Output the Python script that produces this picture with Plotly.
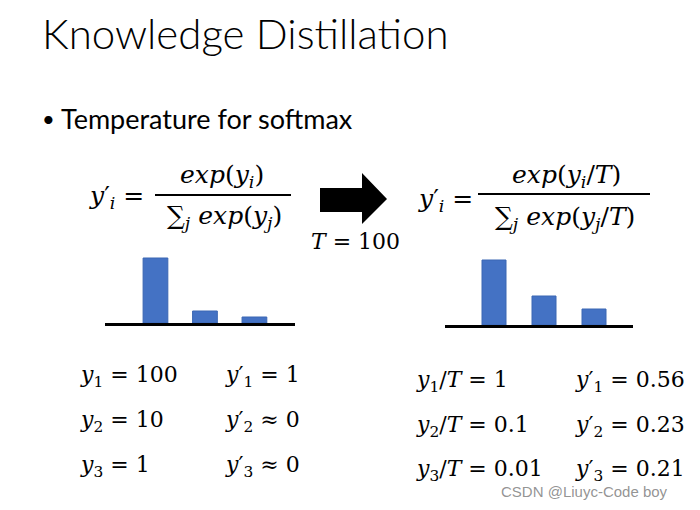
import plotly.graph_objects as go

W, H = 700, 510

# ---- data (bar heights, relative units) ----
categories = [1, 2, 3]
before_T = [65, 12, 6]      # softmax with T = 1
after_T = [65, 29, 16]      # softmax with T = 100

left_rows = [
    ("<i>y</i><sub>1</sub> = 100", "<i>y</i>′<sub>1</sub> = 1"),
    ("<i>y</i><sub>2</sub> = 10", "<i>y</i>′<sub>2</sub> ≈ 0"),
    ("<i>y</i><sub>3</sub> = 1", "<i>y</i>′<sub>3</sub> ≈ 0"),
]
right_rows = [
    ("<i>y</i><sub>1</sub>/<i>T</i> = 1", "<i>y</i>′<sub>1</sub> = 0.56"),
    ("<i>y</i><sub>2</sub>/<i>T</i> = 0.1", "<i>y</i>′<sub>2</sub> = 0.23"),
    ("<i>y</i><sub>3</sub>/<i>T</i> = 0.01", "<i>y</i>′<sub>3</sub> = 0.21"),
]

BLUE = "#4472C4"
SERIF = "DejaVu Serif"
SANS = "Lato"

def px(x):
    return x / W

def py(y):
    return 1 - y / H

fig = go.Figure()

fig.add_trace(go.Bar(x=categories, y=before_T, xaxis="x", yaxis="y",
                     width=0.5, marker=dict(color=BLUE, line=dict(color="#3B66B3", width=1))))
fig.add_trace(go.Bar(x=categories, y=after_T, xaxis="x2", yaxis="y2",
                     width=0.48, marker=dict(color=BLUE, line=dict(color="#3B66B3", width=1))))

# overlay axis in pixel units for text and shapes
fig.add_trace(go.Scatter(x=[0], y=[0], xaxis="x3", yaxis="y3", mode="markers",
                         marker=dict(opacity=0), hoverinfo="skip"))

axis_common = dict(showgrid=False, zeroline=False, showticklabels=False, ticks="")
fig.update_layout(
    width=W, height=H, margin=dict(l=0, r=0, t=0, b=0),
    paper_bgcolor="white", plot_bgcolor="rgba(0,0,0,0)", showlegend=False,
    xaxis=dict(domain=[px(105), px(295)], range=[-0.02, 3.82], anchor="y",
               showline=True, linecolor="black", linewidth=3, **axis_common),
    yaxis=dict(domain=[py(323), py(250)], range=[0, 73], anchor="x",
               showline=False, **axis_common),
    xaxis2=dict(domain=[px(445), px(633)], range=[0.02, 3.78], anchor="y2",
                showline=True, linecolor="black", linewidth=3, **axis_common),
    yaxis2=dict(domain=[py(325), py(252)], range=[0, 73], anchor="x2",
                showline=False, **axis_common),
    xaxis3=dict(domain=[0, 1], range=[0, W], anchor="y3", visible=False),
    yaxis3=dict(domain=[0, 1], range=[H, 0], anchor="x3", visible=False),
)

ann = []

def text(x, y, s, size, family=SERIF, anchor="left", color="black", weight=None):
    f = dict(family=family, size=size, color=color)
    if weight:
        f["weight"] = weight
    ann.append(dict(x=x, y=y, xref="x3", yref="y3", text=s, showarrow=False,
                    xanchor=anchor, yanchor="middle", font=f))

# titles
text(40, 33, "Knowledge Distillation", 42, SANS, weight=300)
text(40, 118, "•", 22, SANS)
text(59, 118, "Temperature for softmax", 27, SANS)

# left formula
text(87, 197, "<i>y</i>′<sub><i>i</i></sub> =", 25)
text(222, 176, "<i>exp</i>(<i>y</i><sub><i>i</i></sub>)", 25, anchor="center")
text(224, 217, "∑<sub><i>j</i></sub> <i>exp</i>(<i>y</i><sub><i>j</i></sub>)", 25, anchor="center")

# right formula
text(416, 200, "<i>y</i>′<sub><i>i</i></sub> =", 25)
text(566, 176, "<i>exp</i>(<i>y</i><sub><i>i</i></sub>/<i>T</i>)", 25, anchor="center")
text(565, 218, "∑<sub><i>j</i></sub> <i>exp</i>(<i>y</i><sub><i>j</i></sub>/<i>T</i>)", 25, anchor="center")

# T = 100
text(355, 241, "<i>T</i> = 100", 22, anchor="center")

# value rows
for (a, b), yy in zip(left_rows, [376, 421, 466]):
    text(78, yy, a, 22)
    text(223, yy, b, 22)
for (a, b), yy in zip(right_rows, [381, 426, 470]):
    text(414, yy, a, 22)
    text(573, yy, b, 22)

# watermark
text(584, 491, "CSDN @Liuyc-Code boy", 15, "Liberation Sans", anchor="center",
     color="rgba(120,120,120,0.8)")

fig.update_layout(annotations=ann)

# shapes: fraction bars and arrow (pixel coordinates on overlay axis)
shapes = [
    dict(type="line", xref="x3", yref="y3", x0=155, x1=291, y0=195, y1=195,
         line=dict(color="black", width=2)),
    dict(type="line", xref="x3", yref="y3", x0=478, x1=650, y0=194, y1=194,
         line=dict(color="black", width=2)),
    dict(type="path", xref="x3", yref="y3",
         path="M320,188 L362,188 L362,173 L387,199 L362,224 L362,212 L320,212 Z",
         fillcolor="black", line=dict(color="black", width=0)),
]
fig.update_layout(shapes=shapes)

fig.write_html("out.html")
